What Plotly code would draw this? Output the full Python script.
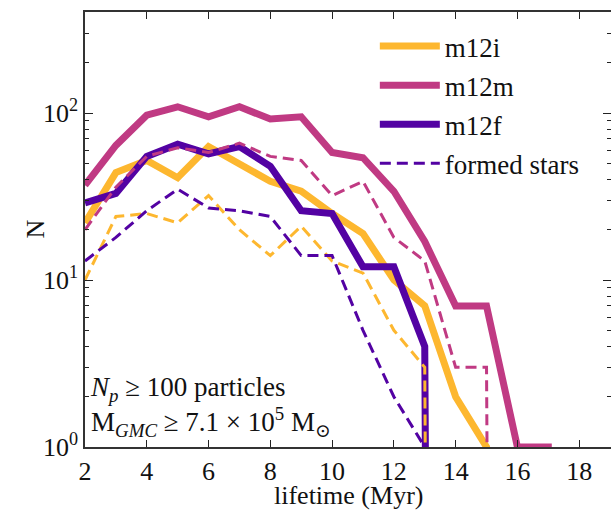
import plotly.graph_objects as go

# ---- data ----
lifetime = [2, 3, 4, 5, 6, 7, 8, 9, 10, 11, 12, 13, 14, 15, 16, 17, 18]

m12i_gmc = [22, 44, 52, 41, 63, 49, 39, 34, 25, 19, 10, 7, 2, 1, 0, 0, 0]
m12m_gmc = [37, 64, 97, 109, 95, 109, 92, 95, 58, 54, 34, 17, 7, 7, 1, 1, 0]
m12f_gmc = [29, 33, 55, 65, 57, 63, 48, 26, 25, 12, 12, 4, 0, 0, 0, 0, 0]

m12i_stars = [10, 24, 25, 22, 32, 20, 14, 21, 13, 11, 5, 3, 0, 0, 0, 0, 0]
m12m_stars = [20, 36, 55, 62, 58, 66, 55, 52, 32, 39, 18, 13, 3, 3, 0, 0, 0]
m12f_stars = [13, 18, 26, 35, 27, 26, 24, 14, 14, 5, 2, 1, 0, 0, 0, 0, 0]

names = ["m12i", "m12m", "m12f"]
colors = ["#fdb72f", "#c03a83", "#5302a3"]
x_title = "lifetime (Myr)"
y_title = "N"

# zero counts behave like matplotlib's clipped log: drop far below the axis
def clip(vals):
    return [v if v > 0 else 1e-30 for v in vals]

FONT = "'Liberation Serif', 'DejaVu Serif', serif"

fig = go.Figure()
for name, col, vals in zip(names, colors, [m12i_gmc, m12m_gmc, m12f_gmc]):
    fig.add_trace(go.Scatter(x=lifetime, y=clip(vals), mode="lines", name=name,
                             legendgroup=name,
                             line=dict(color=col, width=7), showlegend=True))
for i, (col, vals) in enumerate(zip(colors, [m12i_stars, m12m_stars, m12f_stars])):
    fig.add_trace(go.Scatter(x=lifetime, y=clip(vals), mode="lines",
                             name="formed stars", legendgroup="stars%d" % i,
                             line=dict(color=col, width=3, dash="11px,6px"),
                             showlegend=(i == 2)))

minor_vals = [m * 10 ** d for d in range(0, 3) for m in range(2, 10)]

fig.update_layout(
    width=611, height=510,
    margin=dict(l=85, r=0, t=12, b=63, autoexpand=False),
    paper_bgcolor="white", plot_bgcolor="white",
    font=dict(family=FONT, size=25, color="#111"),
    showlegend=True,
    legend=dict(x=0.551, y=0.977, xanchor="left", yanchor="top",
                bgcolor="rgba(0,0,0,0)", font=dict(size=27, family=FONT),
                traceorder="grouped", tracegroupgap=1, itemwidth=60),
    annotations=[
        dict(text="<i>N<sub>p</sub></i> ≥ 100 particles<br>M<sub><i>GMC</i></sub> ≥ 7.1 × 10<sup>5</sup> M<sub>⊙</sub>",
             xref="paper", yref="paper", x=0.005, y=0.01, xanchor="left", yanchor="bottom",
             align="left", showarrow=False, font=dict(size=27, family=FONT)),
        dict(text=x_title, xref="paper", yref="paper", x=0.5, y=-0.112,
             xanchor="center", yanchor="middle", showarrow=False,
             font=dict(size=26, family=FONT)),
        dict(text=y_title, xref="paper", yref="paper", x=-0.095, y=0.5,
             xanchor="center", yanchor="middle", textangle=-90, showarrow=False,
             font=dict(size=26, family=FONT)),
    ],
)

fig.update_xaxes(
    range=[2, 19.03], tickvals=list(range(2, 19, 2)), automargin=False,
    ticks="inside", ticklen=7, tickwidth=1.2, tickcolor="#222",
    showline=True, linecolor="#333", linewidth=1.5, mirror="allticks",
    showgrid=False, zeroline=False,
    tickfont=dict(size=26, family=FONT),
)
fig.update_yaxes(
    type="log", range=[0, 2.605], automargin=False,
    tickvals=[1, 10, 100], ticktext=["10<sup>0</sup>", "10<sup>1</sup>", "10<sup>2</sup>"],
    ticks="inside", ticklen=8, tickwidth=1.2, tickcolor="#222",
    minor=dict(tickvals=minor_vals, ticks="inside", ticklen=4, tickcolor="#222", showgrid=False),
    showline=True, linecolor="#333", linewidth=1.5, mirror="allticks",
    showgrid=False, zeroline=False,
    tickfont=dict(size=26, family=FONT),
)

fig.write_html("out.html", config={"displayModeBar": False},
               post_script="document.body.style.margin='0';")
